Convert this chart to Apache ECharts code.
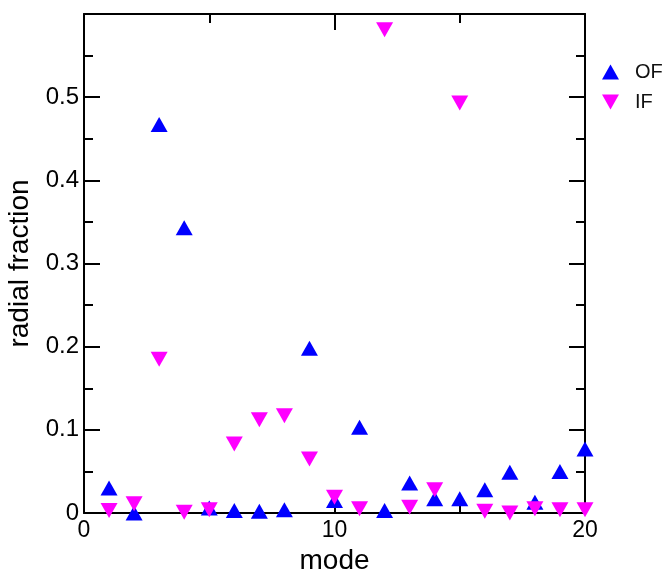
<!DOCTYPE html>
<html>
<head>
<meta charset="utf-8">
<script src="https://cdn.jsdelivr.net/npm/echarts@6/dist/echarts.min.js"></script>
<style>html,body{margin:0;padding:0;background:#fff}#c{width:666px;height:573px}</style>
</head>
<body>
<div id="c"></div>
<script>
var modes = [1,2,3,4,5,6,7,8,9,10,11,12,13,14,15,16,17,18,19,20];
var ofValues = [0.030,0.000,0.467,0.343,0.006,0.003,0.002,0.004,0.198,0.015,0.103,0.003,0.036,0.017,0.017,0.028,0.049,0.013,0.050,0.077];
var ifValues = [0.003,0.011,0.185,0.001,0.004,0.083,0.112,0.117,0.065,0.019,0.005,0.581,0.007,0.028,0.493,0.002,0.000,0.005,0.004,0.004];
var xTicks = [0,10,20];
var yTicks = [0,0.1,0.2,0.3,0.4,0.5];

var downTri = 'path://M0,0L2,0L1,1.75Z';
var font = 'Liberation Sans, Arial, Helvetica, sans-serif';

function pairs(xs, ys){ return xs.map(function(x,i){ return [x, ys[i]]; }); }

var axisCommon = {
  axisLine:{show:true, onZero:false, lineStyle:{color:'#000', width:2}},
  axisTick:{show:true, inside:true, length:16, lineStyle:{color:'#000', width:2}},
  minorTick:{show:true, splitNumber:2, length:9, lineStyle:{color:'#000', width:2}},
  splitLine:{show:false}, minorSplitLine:{show:false}
};
function ext(o){ var r = JSON.parse(JSON.stringify(axisCommon)); for (var k in o) r[k]=o[k]; return r; }

var chart = echarts.init(document.getElementById('c'), null, {renderer:'canvas'});
chart.setOption({
  animation:false,
  backgroundColor:'#fff',
  grid:{left:84, right:81, top:14, bottom:60, containLabel:false, outerBoundsMode:'none'},
  legend:{
    orient:'vertical', left:597, top:57, itemWidth:17, itemHeight:15, itemGap:10,
    textStyle:{fontFamily:font, fontSize:20, color:'#111', padding:[0,0,0,11]},
    data:['OF','IF']
  },
  xAxis:[
    ext({type:'value', position:'bottom', min:0, max:20, interval:10,
      name:'mode', nameLocation:'middle', nameGap:26,
      nameTextStyle:{fontFamily:font, fontSize:28, color:'#000'},
      axisLabel:{show:true, margin:6, fontFamily:font, fontSize:23, color:'#000',
        formatter:function(v){ return xTicks.indexOf(v)>=0 ? String(v) : ''; }}}),
    ext({type:'value', position:'top', min:0, max:20, interval:10, axisLabel:{show:false}})
  ],
  yAxis:[
    ext({type:'value', position:'left', min:0, max:0.6, interval:0.1,
      name:'radial fraction', nameLocation:'middle', nameGap:44,
      nameTextStyle:{fontFamily:font, fontSize:28, color:'#000'},
      axisLabel:{show:true, margin:5, fontFamily:font, fontSize:24, color:'#000',
        formatter:function(v){
          var r = Math.round(v*10)/10;
          if (yTicks.indexOf(r) < 0) return '';
          return r===0 ? '0' : r.toFixed(1);
        }}}),
    ext({type:'value', position:'right', min:0, max:0.6, interval:0.1, axisLabel:{show:false}})
  ],
  series:[
    {name:'OF', type:'scatter', xAxisIndex:0, yAxisIndex:0, symbol:'triangle', symbolSize:[17,15],
      itemStyle:{color:'#0000ff', opacity:1}, data:pairs(modes, ofValues), z:2},
    {name:'IF', type:'scatter', xAxisIndex:0, yAxisIndex:0, symbol:downTri, symbolSize:[17,15],
      itemStyle:{color:'#ff00ff', opacity:1}, data:pairs(modes, ifValues), z:3}
  ]
});
</script>
</body>
</html>
